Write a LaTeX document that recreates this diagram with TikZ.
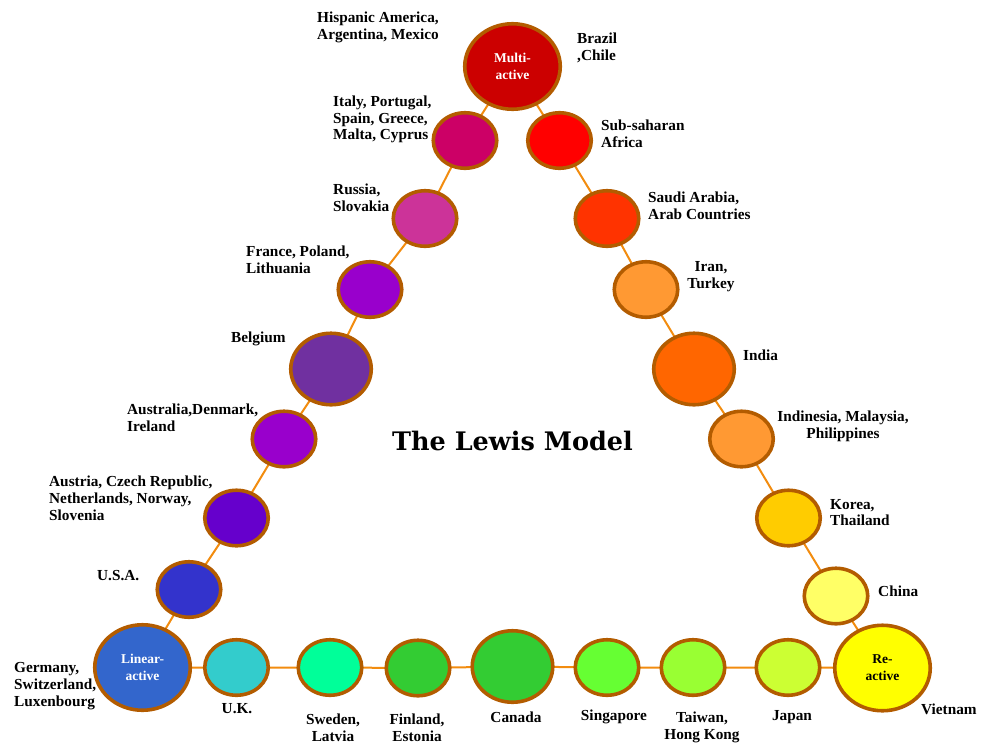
\documentclass[tikz,border=0pt]{standalone}
\usepackage{fontspec}
\setmainfont{Liberation Serif}
\newfontfamily\headfont{DejaVu Serif}
\usetikzlibrary{shapes.geometric,backgrounds}
\definecolor{rim}{HTML}{B35C00}
\definecolor{link}{HTML}{F28C0F}
\tikzset{
  cty/.style={ellipse, draw=rim, line width=3.6pt, minimum width=63.5pt,
              minimum height=55.5pt, inner sep=0pt},
  bigc/.style={cty, minimum width=95.5pt, minimum height=85.5pt},
  midc/.style={cty, minimum width=80.5pt, minimum height=71.5pt},
  lbl/.style={inner sep=0pt, font=\bfseries\fontsize{15.3}{16.8}\selectfont},
  lbll/.style={lbl, anchor=west, align=left},
  lblc/.style={lbl, anchor=center, align=center},
  core/.style={font=\bfseries\fontsize{13.5}{17}\selectfont, align=center},
  conn/.style={draw=link, line width=2pt},
}
\begin{document}
\begin{tikzpicture}[x=1pt, y=-1pt]
\useasboundingbox (0,0) rectangle (982,745);

% the three corner types
\node[bigc, fill={rgb,255:red,204;green,0;blue,0}, text=white, core] (multi) at (512.5,66.5) {Multi-\\active};
\node[bigc, fill={rgb,255:red,51;green,102;blue,204}, text=white, core] (linear) at (142.5,667.5) {Linear-\\active};
\node[bigc, fill={rgb,255:red,255;green,255;blue,0}, text=black, core] (re) at (882.5,668) {Re-\\active};

% left side: multi-active to linear-active
\node[cty, fill={rgb,255:red,204;green,0;blue,102}] (italy) at (465,140.5) {};
\node[cty, fill={rgb,255:red,204;green,51;blue,153}] (russia) at (425,218.5) {};
\node[cty, fill={rgb,255:red,153;green,0;blue,204}] (france) at (370,289.5) {};
\node[midc, fill={rgb,255:red,112;green,48;blue,160}] (belgium) at (331,369) {};
\node[cty, fill={rgb,255:red,153;green,0;blue,204}] (austral) at (284,439) {};
\node[cty, fill={rgb,255:red,102;green,0;blue,204}] (austria) at (236.5,518) {};
\node[cty, fill={rgb,255:red,51;green,51;blue,204}] (usa) at (189,589.5) {};

% right side: multi-active to reactive
\node[cty, fill={rgb,255:red,255;green,0;blue,0}] (africa) at (559.5,140.5) {};
\node[cty, fill={rgb,255:red,255;green,51;blue,0}] (saudi) at (607,218.5) {};
\node[cty, fill={rgb,255:red,255;green,153;blue,51}] (iran) at (646,289.5) {};
\node[midc, fill={rgb,255:red,255;green,102;blue,0}] (india) at (694,369) {};
\node[cty, fill={rgb,255:red,255;green,153;blue,51}] (indo) at (741.5,439) {};
\node[cty, fill={rgb,255:red,255;green,204;blue,0}] (korea) at (788.5,518) {};
\node[cty, fill={rgb,255:red,255;green,255;blue,102}] (china) at (836,596) {};

% bottom: linear-active to reactive
\node[cty, fill={rgb,255:red,51;green,204;blue,204}] (uk) at (236.5,667.5) {};
\node[cty, fill={rgb,255:red,0;green,255;blue,153}] (sweden) at (330,667.5) {};
\node[cty, fill={rgb,255:red,51;green,204;blue,51}] (finland) at (418,668) {};
\node[midc, fill={rgb,255:red,51;green,204;blue,51}] (canada) at (512.5,666.5) {};
\node[cty, fill={rgb,255:red,102;green,255;blue,51}] (singa) at (607,667.5) {};
\node[cty, fill={rgb,255:red,153;green,255;blue,51}] (taiwan) at (693,667.5) {};
\node[cty, fill={rgb,255:red,204;green,255;blue,51}] (japan) at (788,667.5) {};

% connectors, behind the circles
\begin{pgfonlayer}{background}
\draw[conn] (multi.center) -- (italy.center) -- (russia.center) -- (france.center)
  -- (belgium.center) -- (austral.center) -- (austria.center) -- (usa.center) -- (linear.center);
\draw[conn] (multi.center) -- (africa.center) -- (saudi.center) -- (iran.center)
  -- (india.center) -- (indo.center) -- (korea.center) -- (china.center) -- (re.center);
\draw[conn] (linear.center) -- (uk.center) -- (sweden.center) -- (finland.center)
  -- (canada.center) -- (singa.center) -- (taiwan.center) -- (japan.center) -- (re.center);
\end{pgfonlayer}

% title
\node[inner sep=0pt, font=\headfont\bfseries\fontsize{25.5}{29}\selectfont] (title) at (512.5,441) {The Lewis Model};

% country labels
\node[lbll] (t-hisp) at (317,27.5) {Hispanic America,\\Argentina, Mexico};
\node[lbll] (t-braz) at (577,47.5) {Brazil\\,Chile};
\node[lbll] (t-ital) at (333,119.5) {Italy, Portugal,\\Spain, Greece,\\Malta, Cyprus};
\node[lbll] (t-afr) at (601,134) {Sub-saharan\\Africa};
\node[lbll] (t-rus) at (333,197.5) {Russia,\\Slovakia};
\node[lbll] (t-sau) at (648,205.5) {Saudi Arabia,\\Arab Countries};
\node[lbll] (t-fra) at (246,260) {France, Poland,\\Lithuania};
\node[lblc] (t-iran) at (711,276.5) {Iran,\\Turkey};
\node[lbll] (t-bel) at (231,339) {Belgium};
\node[lbll] (t-ind) at (743,355) {India};
\node[lbll] (t-aus) at (127,418) {Australia,Denmark,\\Ireland};
\node[lblc] (t-indo) at (843,426.5) {Indinesia, Malaysia,\\Philippines};
\node[lbll] (t-autr) at (49,498.5) {Austria, Czech Republic,\\Netherlands, Norway,\\Slovenia};
\node[lbll] (t-kor) at (830,512.5) {Korea,\\Thailand};
\node[lbll] (t-usa) at (97,576) {U.S.A.};
\node[lbll] (t-chn) at (878,591) {China};
\node[lbll] (t-ger) at (14,686) {Germany,\\Switzerland,\\Luxenbourg};
\node[lblc] (t-uk) at (237,709) {U.K.};
\node[lblc] (t-swe) at (333,727.5) {Sweden,\\Latvia};
\node[lblc] (t-fin) at (417,727.5) {Finland,\\Estonia};
\node[lblc] (t-can) at (516,717) {Canada};
\node[lblc] (t-sin) at (614,717) {Singapore};
\node[lblc] (t-tai) at (702,727.5) {Taiwan,\\Hong Kong};
\node[lblc] (t-jap) at (792,717) {Japan};
\node[lbll] (t-vie) at (921,709) {Vietnam};
\end{tikzpicture}
\end{document}
